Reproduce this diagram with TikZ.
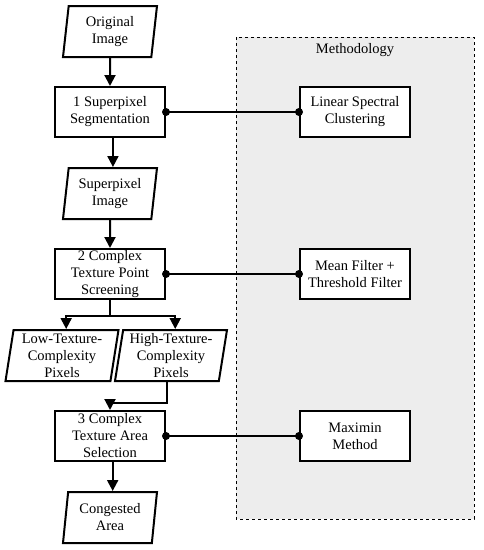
\documentclass[tikz,border=0pt]{standalone}
\usepackage{fontspec}
\setmainfont{Liberation Serif}
\usetikzlibrary{arrows.meta,shapes.geometric,positioning,calc}

\tikzset{
  stepbox/.style={draw,line width=2pt,fill=white,minimum width=110pt,minimum height=50pt,inner sep=1pt,align=center},
  datapar/.style={draw,line width=2pt,fill=white,trapezium,trapezium left angle=80,trapezium right angle=100,
    trapezium stretches body,minimum width=94pt,minimum height=51pt,inner sep=1pt,align=center},
  flow/.style={line width=2pt,-{Triangle[length=11pt,width=11pt]}},
  link/.style={line width=2pt},
  dot/.style={fill=black}
}

\begin{document}
\begin{tikzpicture}[x=1pt,y=-1pt,font=\fontsize{14.5}{17}\selectfont]
\useasboundingbox (0,0) rectangle (484,550);
% methodology frame
\draw[dashed,fill=black!7,line width=1pt] (236,37) rectangle (474,519);
\node (methtitle) at (355,50) {Methodology};

% main flow
\node[datapar] (orig) at (110,31.5) {Original\\Image};
\node[stepbox] (seg) at (110,112) {1 Superpixel\\Segmentation};
\node[datapar] (spimg) at (110,193.5) {Superpixel\\Image};
\node[stepbox] (screen) at (110,274) {2 Complex\\Texture Point\\Screening};
\node[datapar,minimum width=113pt] (low) at (62,355.5) {Low-Texture-\\Complexity\\Pixels};
\node[datapar,minimum width=112pt] (high) at (171,355.5) {High-Texture-\\Complexity\\Pixels};
\node[stepbox] (select) at (110,436) {3 Complex\\Texture Area\\Selection};
\node[datapar] (cong) at (110,517.5) {Congested\\Area};

% methods
\node[stepbox] (lsc) at (355,112) {Linear Spectral\\Clustering};
\node[stepbox] (mean) at (355,274) {Mean Filter +\\Threshold Filter};
\node[stepbox] (maximin) at (355,436) {Maximin\\Method};

% top edge middles of the slanted boxes
\coordinate (spin) at ($(spimg.top left corner)!0.5!(spimg.top right corner)$);
\coordinate (lowin) at ($(low.top left corner)!0.5!(low.top right corner)$);
\coordinate (highin) at ($(high.top left corner)!0.5!(high.top right corner)$);
\coordinate (congin) at ($(cong.top left corner)!0.5!(cong.top right corner)$);

% arrows
\draw[flow] (orig.south) -- (seg.north);
\draw[flow] (seg.south -| spin) -- (spin);
\draw[flow] (spimg.south) -- (screen.north);
\draw[line width=2pt] (screen.south) -- ++(0,16) coordinate (fork);
\draw[flow] (fork) -| (lowin);
\draw[flow] (fork) -| (highin);
\draw[flow] ($(high.bottom left corner)!0.5!(high.bottom right corner)$) -- ++(0,21) -| (select.north);
\draw[flow] (select.south -| congin) -- (congin);

% links to methods
\foreach \a/\b in {seg/lsc,screen/mean,select/maximin}{
  \draw[link] (\a.east) -- (\b.west);
  \fill[dot] (\a.east) circle[radius=4];
  \fill[dot] (\b.west) circle[radius=4];
}
\end{tikzpicture}
\end{document}
